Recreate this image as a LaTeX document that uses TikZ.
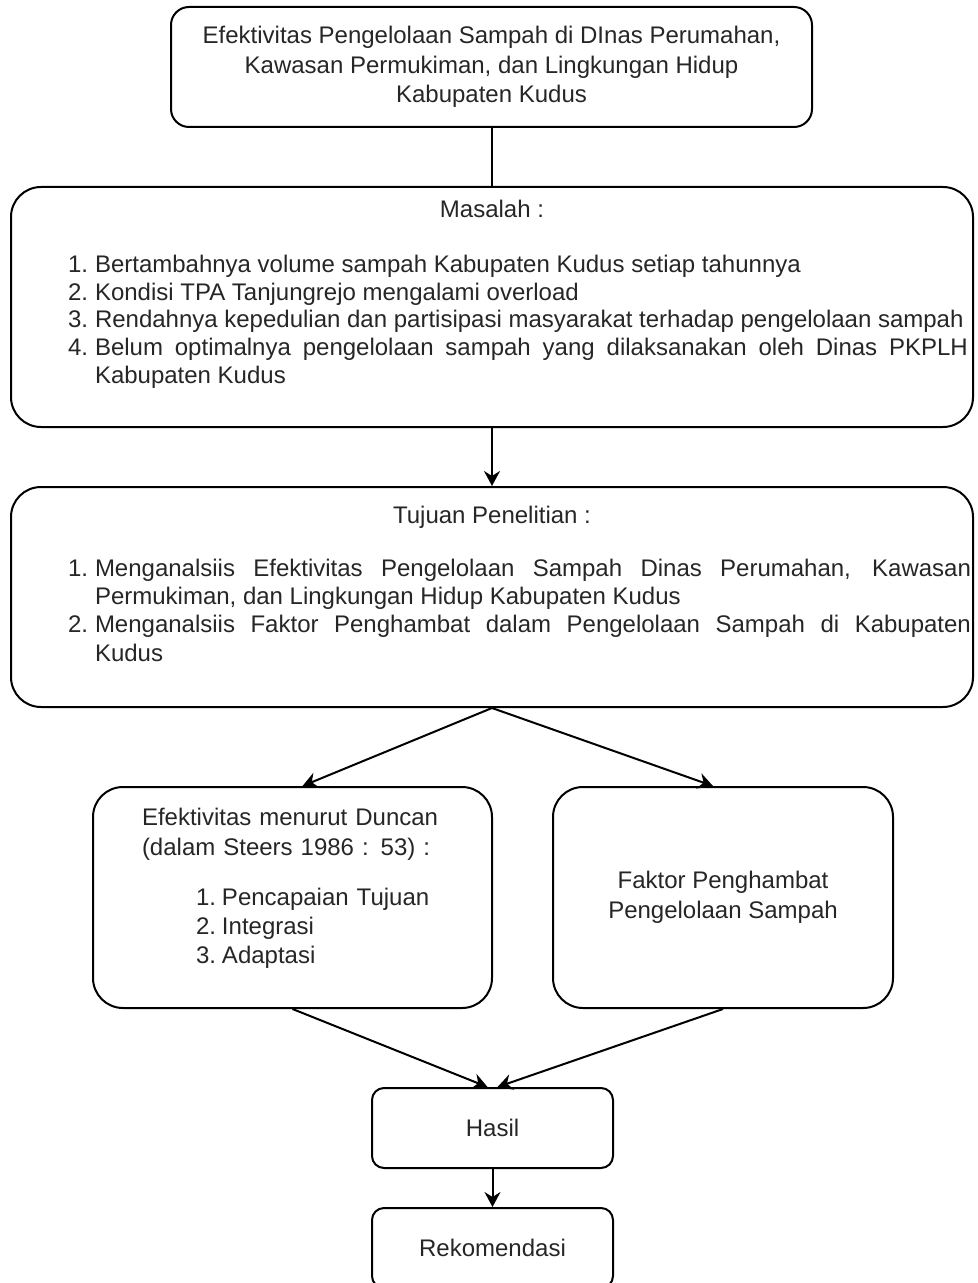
\documentclass[tikz,border=0pt]{standalone}
\usepackage{fontspec}
\setmainfont{Liberation Sans}
\usetikzlibrary{arrows.meta}
\hyphenpenalty=10000
\exhyphenpenalty=10000
\tolerance=10000
\newcommand\myitem[3]{\hangindent=#1\hangafter=1\noindent\makebox[#1][l]{#2}#3\par}
\tikzset{
  box/.style={draw=black, line width=1pt, rounded corners=#1, inner sep=0pt,
    text=black!85, font=\fontsize{12}{14.75}\selectfont, align=center},
  txt/.style={inner sep=0pt, outer sep=0pt, text=black!85, font=\fontsize{12}{#1}\selectfont},
  link/.style={draw=black, line width=1pt},
  arr/.style={link, -{Stealth[length=7.5pt,width=8pt,inset=2.5pt]}},
}
\begin{document}
\begin{tikzpicture}[x=0.5pt,y=-0.5pt]
\useasboundingbox (0,0) rectangle (978,1283);
\clip (0,0) rectangle (978,1283);

% boxes
\node[box=9pt, minimum width=320.5pt, minimum height=60pt] (top) at (491.5,67)
  {\raisebox{0pt}[0pt][0pt]{}Efektivitas Pengelolaan Sampah di DInas Perumahan,\\Kawasan Permukiman, dan Lingkungan Hidup\\Kabupaten Kudus};
\node[box=15pt, minimum width=481pt, minimum height=120pt] (masalah) at (492,307) {};
\node[box=15pt, minimum width=481pt, minimum height=110pt] (tujuan) at (492,597) {};
\node[box=15pt, minimum width=199.5pt, minimum height=110.5pt] (left) at (292.5,897.5) {};
\node[box=15pt, minimum width=170pt, minimum height=110.5pt] (right) at (723,897.5)
  {Faktor Penghambat\\Pengelolaan Sampah};
\node[box=6pt, minimum width=120.5pt, minimum height=40pt] (hasil) at (492.5,1128) {Hasil};
\node[box=6pt, minimum width=120.5pt, minimum height=40pt] (rek) at (492.5,1248) {Rekomendasi};

% texts of Masalah
\node[txt=14pt, anchor=base] (masalahtitle) at (492,218) {Masalah :};
\node[txt=13.75pt, anchor=base west, text width=450pt, align=justify] (masalahlist) at (68,273) {%
  \myitem{13.5pt}{1.}{Bertambahnya volume sampah Kabupaten Kudus setiap tahunnya}%
  \myitem{13.5pt}{2.}{Kondisi TPA Tanjungrejo mengalami overload}%
  \myitem{13.5pt}{3.}{Rendahnya kepedulian dan partisipasi masyarakat terhadap pengelolaan sampah}%
  \myitem{13.5pt}{4.}{Belum optimalnya pengelolaan sampah yang dilaksanakan oleh Dinas PKPLH\linebreak Kabupaten Kudus}};

% texts of Tujuan
\node[txt=14pt, anchor=base] (tujuantitle) at (492,523) {Tujuan Penelitian :};
\node[txt=14.17pt, anchor=base west, text width=451.5pt, align=justify] (tujuanlist) at (68,576) {%
  \myitem{13.5pt}{1.}{Menganalsiis Efektivitas Pengelolaan Sampah Dinas Perumahan, Kawasan\linebreak Permukiman, dan Lingkungan Hidup Kabupaten Kudus}%
  \myitem{13.5pt}{2.}{Menganalsiis Faktor Penghambat dalam Pengelolaan Sampah di Kabupaten\linebreak Kudus}};

% texts of left box
\node[txt=15pt, anchor=base west, text width=170pt, align=left] (lefttitle) at (142,825)
  {Efektivitas menurut Duncan\\(dalam Steers 1986 : 53) :};
\node[txt=14.5pt, anchor=base west, text width=140pt, align=left] (leftlist) at (196,905) {%
  \myitem{13pt}{1.}{Pencapaian Tujuan}%
  \myitem{13pt}{2.}{Integrasi}%
  \myitem{13pt}{3.}{Adaptasi}};

% connectors
\draw[link] (top.south) -- (top.south |- masalah.north);
\draw[arr] (masalah.south) -- (tujuan.north);
\draw[arr] (tujuan.south) -- ([xshift=5pt]left.north);
\draw[arr] (tujuan.south) -- ([xshift=-5pt]right.north);
\draw[arr] (left.south) -- ([xshift=-2.5pt]hasil.north);
\draw[arr] (right.south) -- ([xshift=2.5pt]hasil.north);
\draw[arr] (hasil.south) -- (rek.north);
\end{tikzpicture}
\end{document}
